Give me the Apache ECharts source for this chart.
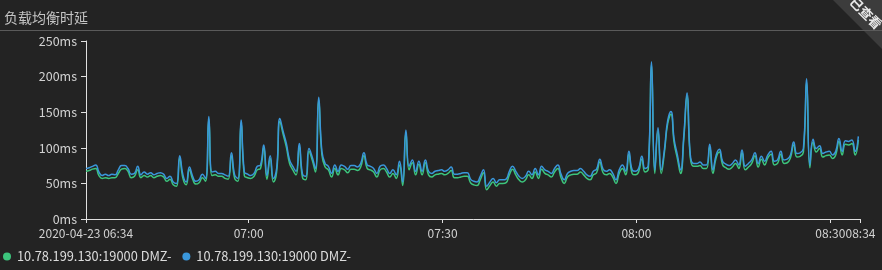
<!DOCTYPE html>
<html>
<head>
<meta charset="utf-8">
<script src="https://cdn.jsdelivr.net/npm/echarts@6/dist/echarts.min.js"></script>
<style>
html,body{margin:0;padding:0;background:#232323;}
#c{width:882px;height:270px;}
</style>
</head>
<body>
<div id="c"></div>
<script>
const titleText = '负载均衡时延';
const cornerText = '已查看';
const seriesNames = ['10.78.199.130:19000 DMZ-', '10.78.199.130:19000 DMZ-'];
const startTime = new Date(2020, 3, 23, 6, 34, 50).getTime();
const endTime = new Date(2020, 3, 23, 8, 34, 40).getTime();
const stepMs = 30000;
const xTickTimes = [
  startTime,
  new Date(2020, 3, 23, 7, 0, 0).getTime(),
  new Date(2020, 3, 23, 7, 30, 0).getTime(),
  new Date(2020, 3, 23, 8, 0, 0).getTime(),
  new Date(2020, 3, 23, 8, 30, 0).getTime(),
  endTime
];
const yTicks = [0, 50, 100, 150, 200, 250];

const greenValues = [
  67, 68, 70, 71, 61, 57, 58, 57, 58, 58,
  64, 70, 71, 67, 58, 60, 69, 58, 61, 59,
  61, 58, 60, 61, 59, 53, 56, 48, 46, 85,
  57, 48, 69, 56, 49, 51, 58, 53, 140, 61,
  62, 60, 60, 57, 56, 89, 57, 53, 135, 61,
  58, 57, 60, 69, 71, 100, 56, 85, 52, 66,
  137, 119, 101, 78, 69, 62, 102, 58, 55, 95,
  83, 66, 167, 90, 73, 69, 59, 71, 62, 71,
  69, 65, 70, 70, 68, 73, 89, 71, 69, 66,
  59, 69, 71, 66, 59, 64, 57, 76, 47, 121,
  69, 79, 62, 77, 62, 79, 62, 59, 62, 63,
  64, 62, 64, 68, 58, 58, 59, 60, 60, 51,
  48, 47, 55, 65, 41, 47, 52, 46, 50, 50,
  51, 62, 70, 62, 55, 52, 55, 62, 57, 66,
  57, 70, 64, 62, 59, 66, 71, 58, 50, 59,
  62, 63, 63, 66, 62, 57, 55, 62, 65, 80,
  65, 62, 64, 59, 50, 64, 71, 62, 91, 64,
  62, 66, 84, 66, 70, 217, 64, 124, 64, 94,
  134, 147, 107, 85, 64, 113, 173, 86, 74, 74,
  75, 71, 71, 101, 64, 86, 94, 76, 72, 70,
  73, 78, 71, 93, 69, 73, 78, 89, 73, 84,
  76, 86, 91, 76, 78, 91, 78, 79, 86, 104,
  87, 88, 94, 192, 72, 108, 94, 99, 87, 89,
  90, 85, 90, 109, 90, 105, 104, 106, 90, 111
];

const blueValues = [
  71, 72, 74, 76, 66, 61, 63, 61, 63, 62,
  69, 75, 75, 71, 63, 64, 74, 62, 66, 63,
  65, 62, 64, 65, 63, 57, 60, 52, 50, 89,
  62, 52, 73, 60, 53, 55, 63, 57, 144, 66,
  67, 64, 64, 62, 60, 93, 62, 57, 139, 66,
  63, 61, 64, 74, 76, 104, 61, 89, 57, 71,
  141, 123, 106, 83, 74, 67, 106, 63, 60, 99,
  87, 71, 171, 95, 78, 74, 64, 76, 67, 76,
  74, 70, 75, 75, 73, 78, 93, 76, 74, 71,
  64, 74, 76, 71, 64, 69, 62, 81, 52, 125,
  74, 83, 67, 81, 67, 83, 67, 64, 67, 68,
  69, 67, 69, 73, 63, 63, 64, 65, 65, 56,
  53, 52, 60, 69, 46, 52, 57, 51, 55, 55,
  56, 67, 74, 67, 60, 57, 60, 67, 62, 71,
  62, 74, 69, 67, 64, 71, 76, 63, 55, 64,
  67, 68, 68, 71, 67, 62, 60, 67, 70, 84,
  70, 67, 69, 64, 55, 69, 76, 67, 95, 69,
  67, 71, 88, 71, 75, 221, 69, 128, 69, 98,
  138, 151, 112, 90, 69, 118, 177, 90, 78, 78,
  80, 76, 76, 105, 69, 90, 98, 81, 77, 75,
  78, 83, 76, 97, 74, 78, 83, 93, 78, 88,
  81, 90, 95, 81, 83, 95, 83, 84, 90, 108,
  92, 93, 99, 197, 76, 112, 99, 103, 92, 94,
  95, 90, 95, 113, 95, 110, 109, 111, 95, 116
];

function toPairs(vals) {
  return vals.map((v, i) => [startTime + i * stepMs, v]);
}
function pad(n) { return (n < 10 ? '0' : '') + n; }
function fmtTime(val) {
  const d = new Date(val);
  const hm = pad(d.getHours()) + ':' + pad(d.getMinutes());
  if (Math.abs(val - startTime) < 1000) {
    return d.getFullYear() + '-' + pad(d.getMonth() + 1) + '-' + pad(d.getDate()) + ' ' + hm;
  }
  return hm;
}

const FONT = '"Noto Sans CJK SC", "Noto Sans", sans-serif';
const chart = echarts.init(document.getElementById('c'), null, {renderer: 'canvas'});
chart.setOption({
  backgroundColor: '#232323',
  animation: false,
  color: ['#3cc47c', '#3a97db'],
  title: {
    text: titleText, left: -1, top: 6,
    textStyle: {color: '#c4c4c4', fontSize: 14, fontWeight: 'normal', fontFamily: FONT}
  },
  graphic: [
    {type: 'polygon', shape: {points: [[833, 0], [882, 0], [882, 49]]}, style: {fill: '#3c3c3c'}, z: 10},
    {type: 'line', shape: {x1: 0, y1: 30.5, x2: 882, y2: 30.5}, style: {stroke: '#5a5a5a', lineWidth: 1}, z: 11},
    {type: 'text', x: 866, y: 13, rotation: -Math.PI / 4, z: 12,
     style: {text: cornerText, fill: '#e8e8e8', font: 'bold 13px ' + FONT, align: 'center', verticalAlign: 'middle'}}
  ],
  legend: {
    left: -2, bottom: 2, icon: 'circle', itemWidth: 8, itemHeight: 8, itemGap: 8,
    textStyle: {color: '#dcdcdc', fontSize: 12.8, fontFamily: FONT, padding: [0, 0, 0, 1]},
    data: [{name: seriesNames[0] + ' '}, {name: seriesNames[1]}]
  },
  grid: {left: 86, right: 21.5, top: 41, bottom: 51, containLabel: false},
  xAxis: {
    type: 'value', min: startTime, max: endTime,
    axisLine: {lineStyle: {color: '#e0e0e0', width: 1}},
    axisTick: {show: true, length: 4, lineStyle: {color: '#e0e0e0'}, customValues: xTickTimes},
    splitLine: {show: false},
    axisLabel: {color: '#d2d2d2', fontSize: 12, fontFamily: FONT, margin: 8, hideOverlap: false,
      showMinLabel: true, showMaxLabel: true, customValues: xTickTimes, formatter: fmtTime}
  },
  yAxis: {
    type: 'value', min: yTicks[0], max: yTicks[yTicks.length - 1], interval: 50,
    axisLine: {show: true, lineStyle: {color: '#e0e0e0', width: 1}},
    axisTick: {show: true, length: 5, lineStyle: {color: '#e0e0e0'}},
    splitLine: {show: false},
    axisLabel: {color: '#d2d2d2', fontSize: 12.5, fontFamily: FONT, margin: 9, formatter: '{value}ms'}
  },
  series: [
    {name: seriesNames[0] + ' ', type: 'line', smooth: true, showSymbol: false, data: toPairs(greenValues),
     lineStyle: {width: 1.5, color: '#3cc47c'}},
    {name: seriesNames[1], type: 'line', smooth: true, showSymbol: false, data: toPairs(blueValues),
     lineStyle: {width: 1.5, color: '#3a97db'}}
  ]
});
</script>
</body>
</html>
